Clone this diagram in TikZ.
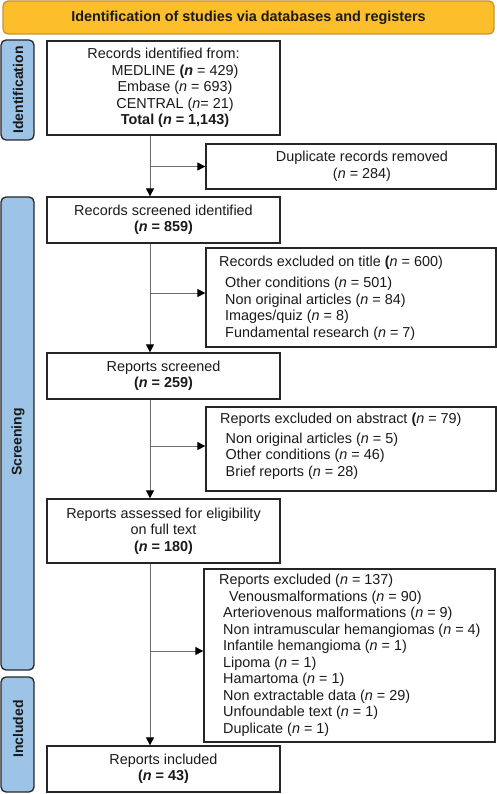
\documentclass[tikz,border=0pt]{standalone}
\usepackage{fontspec}
\setmainfont{Liberation Sans}
\usetikzlibrary{arrows.meta,calc}
\definecolor{bannerfill}{HTML}{FDBE2C}
\definecolor{bannerline}{HTML}{C39538}
\definecolor{sidefill}{HTML}{9DC3E6}
\definecolor{boxline}{HTML}{262626}
\definecolor{arrline}{HTML}{6E6E6E}
\definecolor{txt}{HTML}{1A1A1A}
\newcommand{\nn}{\textit{n}}
\newcommand{\bn}{\textbf{\textit{n}}}
\begin{document}
\begin{tikzpicture}[x=1pt,y=-1pt,
  box/.style={draw=boxline, line width=1.3pt, fill=white, inner sep=0pt, minimum width=233pt,
    text=txt, font=\fontsize{14.4}{16.5}\selectfont, align=center},
  widebox/.style={box, minimum width=290pt},
  listtext/.style={inner sep=0pt, anchor=west, align=left, text=txt, font=\fontsize{14.4}{16.5}\selectfont},
  sidebar/.style={draw=boxline, line width=1.3pt, fill=sidefill, rounded corners=5pt, minimum width=33pt, inner sep=0pt},
  sidelabel/.style={rotate=90, inner sep=0pt, text=txt, font=\bfseries\fontsize{14}{16}\selectfont},
  arr/.style={draw=arrline, line width=1pt, -{Triangle[length=8pt,width=8pt,color=black]}},
  plain/.style={draw=arrline, line width=1pt}]
\useasboundingbox (0,0) rectangle (497,794);

% banner
\node[draw=bannerline, line width=1.3pt, fill=bannerfill, rounded corners=5pt,
  minimum width=491pt, minimum height=33pt, inner sep=0pt,
  font=\bfseries\fontsize{14.4}{16}\selectfont, text=txt] (banner) at (248.5,17.5)
  {Identification of studies via databases and registers};

% side bars
\node[sidebar, minimum height=100pt] (sbid) at (17.5,90) {};
\node[sidebar, minimum height=473pt] (sbsc) at (17.5,433.5) {};
\node[sidebar, minimum height=115pt] (sbin) at (17.5,734.5) {};
\node[sidelabel] (lid) at (18,90) {Identification};
\node[sidelabel] (lsc) at (18,442) {Screening};
\node[sidelabel] (lin) at (18,729) {Included};

% main boxes
\node[box, minimum height=94pt] (b1) at (163.5,88) {Records identified from:\\
  \hspace*{23pt}MEDLINE \textbf{(\textit{n}} = 429)\\
  \hspace*{23pt}Embase (\nn{} = 693)\\
  \hspace*{23pt}CENTRAL (\nn= 21)\\
  \hspace*{23pt}\textbf{Total (\textit{n} = 1,143)}};
\node[box, minimum height=46pt] (b2) at (163.5,220) {Records screened identified\\\textbf{(\textit{n} = 859)}};
\node[box, minimum height=46pt] (b4) at (163.5,376) {Reports screened\\\textbf{(\textit{n} = 259)}};
\node[box, minimum height=64pt] (b6) at (163.5,531) {Reports assessed for eligibility\\on full text\\\textbf{(\textit{n} = 180)}};
\node[box, minimum height=46pt] (b8) at (163.5,769) {Reports included\\\textbf{(\textit{n} = 43)}};

% exclusion boxes
\node[widebox, minimum height=45pt] (dup) at (351,166.5)
  {\hspace*{22pt}Duplicate records removed\\\hspace*{22pt}(\nn{} = 284)};
\node[widebox, minimum height=99pt] (b3) at (351,297.5) {};
\node[widebox, minimum height=84pt] (b5) at (351,449) {};
\node[widebox, minimum width=291pt, minimum height=173pt] (b7) at (349.5,655.5) {};

\node[listtext] (t3) at (219,298.5) {Records excluded on title \textbf{(}\nn{} = 600)\\[4.5pt]
  \hspace*{6pt}Other conditions (\nn{} = 501)\\
  \hspace*{6pt}Non original articles (\nn{} = 84)\\
  \hspace*{6pt}Images/quiz (\nn{} = 8)\\
  \hspace*{6pt}Fundamental research (\nn{} = 7)};
\node[listtext] (t5) at (220,446.5) {Reports excluded on abstract \textbf{(}\nn{} = 79)\\[3pt]
  \hspace*{5.5pt}Non original articles (\nn{} = 5)\\
  \hspace*{5.5pt}Other conditions (\nn{} = 46)\\
  \hspace*{5.5pt}Brief reports (\nn{} = 28)};
\node[listtext] (t7) at (219,655) {Reports excluded (\nn{} = 137)\\[0.5pt]
  \hspace*{10pt}Venousmalformations (\nn{} = 90)\\
  \hspace*{4pt}Arteriovenous malformations (\nn{} = 9)\\
  \hspace*{4pt}Non intramuscular hemangiomas (\nn{} = 4)\\
  \hspace*{4pt}Infantile hemangioma (\nn{} = 1)\\
  \hspace*{4pt}Lipoma (\nn{} = 1)\\
  \hspace*{4pt}Hamartoma (\nn{} = 1)\\
  \hspace*{4pt}Non extractable data (\nn{} = 29)\\
  \hspace*{4pt}Unfoundable text (\nn{} = 1)\\
  \hspace*{4pt}Duplicate (\nn{} = 1)};

% connectors
\coordinate (mx) at (150,0);
\draw[arr] (b1.south -| mx) -- (b2.north -| mx);
\draw[arr] (b2.south -| mx) -- (b4.north -| mx);
\draw[arr] (b4.south -| mx) -- (b6.north -| mx);
\draw[arr] (b6.south -| mx) -- (b8.north -| mx);
\draw[arr] (mx |- dup.west) -- (dup.west);
\coordinate (e3) at ($(b3.west)+(0,-4.5)$);
\coordinate (e5) at ($(b5.west)+(0,-3)$);
\coordinate (e7) at ($(b7.west)+(0,-4.5)$);
\draw[arr] (mx |- e3) -- (e3);
\draw[arr] (mx |- e5) -- (e5);
\draw[arr] (mx |- e7) -- (e7);
\end{tikzpicture}
\end{document}
